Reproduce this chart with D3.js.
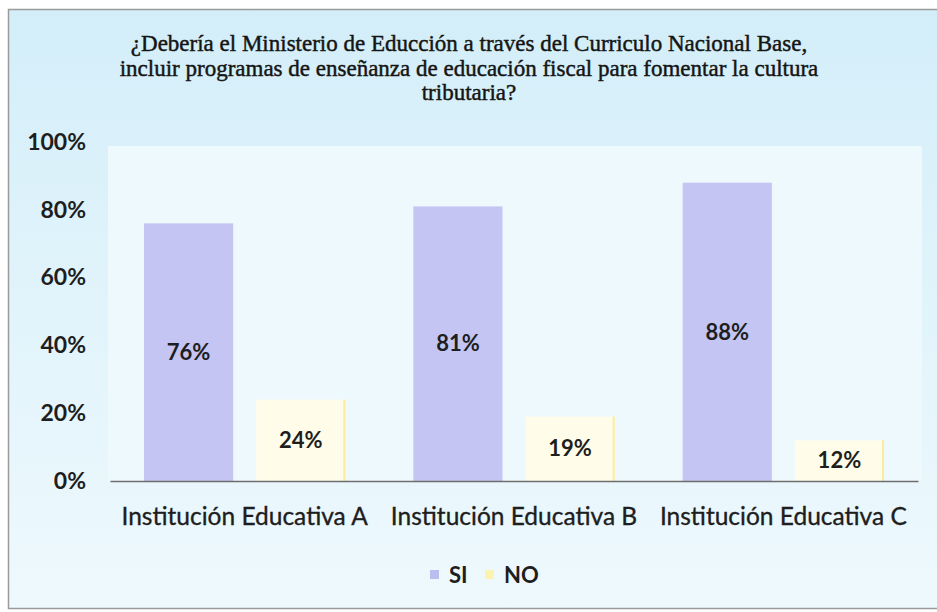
<!DOCTYPE html>
<html>
<head>
<meta charset="utf-8">
<script src="https://cdn.jsdelivr.net/npm/d3@7"></script>
<style>
  body { margin: 0; background: #fff; }
  svg { display: block; }
</style>
</head>
<body>
<svg id="chart" width="937" height="612"></svg>
<script>
// data
var categories = ["Institución Educativa A", "Institución Educativa B", "Institución Educativa C"];
var series = ["SI", "NO"];
var siValues = [0.76, 0.81, 0.88];
var noValues = [0.24, 0.19, 0.12];
var yTicks = [0, 0.2, 0.4, 0.6, 0.8, 1];
var titleLines = [
  "¿Debería el Ministerio de Educción a través del Curriculo Nacional Base,",
  "incluir programas de enseñanza de educación fiscal para fomentar la cultura",
  "tributaria?"
];

var svg = d3.select("#chart");
var W = 937, H = 612;
var margin = {top: 142, left: 110, right: 19, bottom: 131};
var w = W - margin.left - margin.right;
var h = H - margin.top - margin.bottom;

var colors = {SI: "#c4c5f3", NO: "#fffcea"};
var sans = "Lato, 'Open Sans', sans-serif";

// background gradient of the chart area
var defs = svg.append("defs");
var grad = defs.append("linearGradient").attr("id", "bg")
    .attr("x1", 0).attr("y1", 0).attr("x2", 0).attr("y2", 1);
grad.append("stop").attr("offset", "0%").attr("stop-color", "#d3eef9");
grad.append("stop").attr("offset", "45%").attr("stop-color", "#e0f3fb");
grad.append("stop").attr("offset", "100%").attr("stop-color", "#eef9fd");

svg.append("rect")
    .attr("x", 8.5).attr("y", 9.5)
    .attr("width", 940).attr("height", 599)
    .attr("fill", "url(#bg)")
    .attr("stroke", "#9a9a9a")
    .attr("stroke-width", 1.5);

// plot area
svg.append("rect")
    .attr("x", margin.left - 2).attr("y", 146)
    .attr("width", w + 6).attr("height", margin.top + h - 146)
    .attr("fill", "#edf9fd");

// title
svg.append("text")
    .attr("text-anchor", "middle")
    .attr("font-family", "'Liberation Serif', 'Times New Roman', serif")
    .attr("font-size", "23px")
    .attr("fill", "#151515")
    .attr("stroke", "#151515")
    .attr("stroke-width", 0.45)
    .selectAll("tspan")
    .data(titleLines)
    .enter()
    .append("tspan")
    .attr("x", 469)
    .attr("y", function(d, i) { return 51 + i * 24.5; })
    .text(function(d) { return d; });

var g = svg.append("g")
    .attr("transform", "translate(" + margin.left + "," + margin.top + ")");

var x0 = d3.scaleBand().domain(categories).range([0, w]);
var x1 = d3.scaleBand().domain(series)
    .range([34, x0.bandwidth() - 34])
    .paddingInner(0.205);
var y = d3.scaleLinear().domain([0, 1]).range([h, 0]);

var rows = categories.map(function(c, i) {
  return {cat: c, vals: [{key: "SI", v: siValues[i]}, {key: "NO", v: noValues[i]}]};
});

var groups = g.selectAll("g.grp")
    .data(rows)
    .enter()
    .append("g")
    .attr("class", "grp")
    .attr("transform", function(d) { return "translate(" + x0(d.cat) + ",0)"; });

groups.selectAll("rect")
    .data(function(d) { return d.vals; })
    .enter()
    .append("rect")
    .attr("x", function(d) { return x1(d.key); })
    .attr("y", function(d) { return y(d.v); })
    .attr("width", x1.bandwidth())
    .attr("height", function(d) { return h - y(d.v); })
    .attr("fill", function(d) { return colors[d.key]; });

// faint yellow right edge on the NO bars
groups.selectAll("line.edge")
    .data(function(d) { return d.vals.filter(function(v) { return v.key === "NO"; }); })
    .enter()
    .append("line")
    .attr("x1", function(d) { return x1(d.key) + x1.bandwidth() - 1; })
    .attr("x2", function(d) { return x1(d.key) + x1.bandwidth() - 1; })
    .attr("y1", function(d) { return y(d.v); })
    .attr("y2", h)
    .attr("stroke", "#faec9c")
    .attr("stroke-width", 2);

// value labels
groups.selectAll("text.val")
    .data(function(d) { return d.vals; })
    .enter()
    .append("text")
    .attr("class", "val")
    .attr("x", function(d) { return x1(d.key) + x1.bandwidth() / 2; })
    .attr("y", function(d) { return (y(d.v) + h) / 2; })
    .attr("dy", "0.35em")
    .attr("text-anchor", "middle")
    .attr("font-family", sans)
    .attr("font-weight", "bold")
    .attr("font-size", "22px")
    .attr("fill", "#1e1e1e")
    .text(function(d) { return Math.round(d.v * 100) + "%"; });

// y axis
var yAxis = g.append("g")
    .call(d3.axisLeft(y).tickValues(yTicks).tickFormat(d3.format(".0%")).tickSize(0).tickPadding(24));
yAxis.select(".domain").remove();
yAxis.selectAll("text")
    .attr("font-family", sans)
    .attr("font-weight", "bold")
    .attr("font-size", "23px")
    .attr("fill", "#1e1e1e");

// x axis
var xAxis = g.append("g")
    .attr("transform", "translate(0," + h + ")")
    .call(d3.axisBottom(x0).tickSize(0).tickPadding(27));
xAxis.select(".domain").attr("stroke", "#6e6e6e").attr("stroke-width", 1.5);
xAxis.selectAll("text")
    .attr("font-family", sans)
    .attr("font-size", "24.5px")
    .attr("fill", "#1e1e1e")
    .attr("stroke", "#1e1e1e")
    .attr("stroke-width", 0.35);

// legend
var legend = svg.append("g").attr("transform", "translate(430,575)");
var items = legend.selectAll("g")
    .data(series)
    .enter()
    .append("g")
    .attr("transform", function(d, i) { return "translate(" + (i * 55) + ",0)"; });
items.append("rect")
    .attr("x", 0).attr("y", -5)
    .attr("width", 9).attr("height", 9)
    .attr("fill", function(d) { return d === "NO" ? "#fdf3b0" : "#b9bdf0"; });
items.append("text")
    .attr("x", 19)
    .attr("dy", "0.35em")
    .attr("font-family", sans)
    .attr("font-weight", "bold")
    .attr("font-size", "22px")
    .attr("fill", "#1e1e1e")
    .text(function(d) { return d; });
</script>
</body>
</html>
